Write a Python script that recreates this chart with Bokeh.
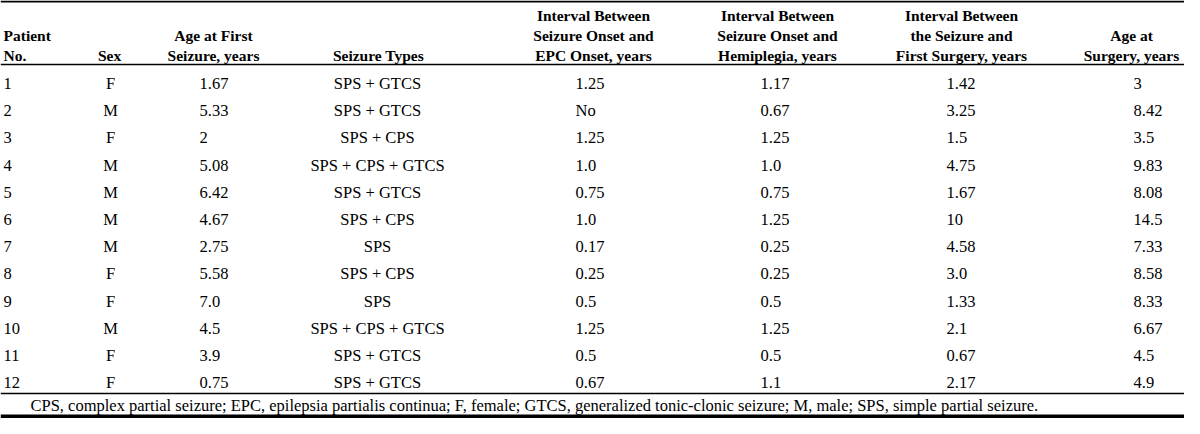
from bokeh.plotting import figure
from bokeh.models import Range1d, ColumnDataSource
from bokeh.core.properties import value
from bokeh.embed import file_html
from bokeh.resources import INLINE

# ---- data ----
patient_no = ["1", "2", "3", "4", "5", "6", "7", "8", "9", "10", "11", "12"]
sex = ["F", "M", "F", "M", "M", "M", "M", "F", "F", "M", "F", "F"]
age_first = ["1.67", "5.33", "2", "5.08", "6.42", "4.67", "2.75", "5.58", "7.0", "4.5", "3.9", "0.75"]
seizure_types = ["SPS + GTCS", "SPS + GTCS", "SPS + CPS", "SPS + CPS + GTCS", "SPS + GTCS", "SPS + CPS",
                 "SPS", "SPS + CPS", "SPS", "SPS + CPS + GTCS", "SPS + GTCS", "SPS + GTCS"]
interval_epc = ["1.25", "No", "1.25", "1.0", "0.75", "1.0", "0.17", "0.25", "0.5", "1.25", "0.5", "0.67"]
interval_hemi = ["1.17", "0.67", "1.25", "1.0", "0.75", "1.25", "0.25", "0.25", "0.5", "1.25", "0.5", "1.1"]
interval_surgery = ["1.42", "3.25", "1.5", "4.75", "1.67", "10", "4.58", "3.0", "1.33", "2.1", "0.67", "2.17"]
age_surgery = ["3", "8.42", "3.5", "9.83", "8.08", "14.5", "7.33", "8.58", "8.33", "6.67", "4.5", "4.9"]

headers = [
    ["Patient", "No."],
    ["Sex"],
    ["Age at First", "Seizure, years"],
    ["Seizure Types"],
    ["Interval Between", "Seizure Onset and", "EPC Onset, years"],
    ["Interval Between", "Seizure Onset and", "Hemiplegia, years"],
    ["Interval Between", "the Seizure and", "First Surgery, years"],
    ["Age at", "Surgery, years"],
]
footnote = ("CPS, complex partial seizure; EPC, epilepsia partialis continua; F, female; "
            "GTCS, generalized tonic-clonic seizure; M, male; SPS, simple partial seizure.")

# ---- layout (pixel coordinates, 1:1) ----
FONT = value("Liberation Serif")
W, H = 1184, 418
p = figure(width=W, height=H, x_range=Range1d(0, W), y_range=Range1d(H, 0),
           output_backend="svg", toolbar_location=None, min_border=0)
p.axis.visible = False
p.grid.visible = False
p.outline_line_color = None
p.background_fill_color = "white"

# column: data x, data align, header x, header align
cols = [
    (3, "left", 3, "left"),
    (110, "center", 109, "center"),
    (199, "left", 213, "center"),
    (377, "center", 378, "center"),
    (575, "left", 593, "center"),
    (760, "left", 777, "center"),
    (946, "left", 961, "center"),
    (1133, "left", 1131, "center"),
]
columns = [patient_no, sex, age_first, seizure_types, interval_epc, interval_hemi,
           interval_surgery, age_surgery]

row0, pitch = 83, 27.2
header_lines_y = [15, 35, 55]

# rules
p.segment(x0=[0], y0=[1], x1=[W], y1=[1], line_color="black", line_width=2)
p.segment(x0=[0], y0=[64], x1=[W], y1=[64], line_color="black", line_width=1.5)
p.segment(x0=[0], y0=[393], x1=[W], y1=[393], line_color="black", line_width=1.5)
p.segment(x0=[0], y0=[416], x1=[W], y1=[416], line_color="black", line_width=4)

# headers
for (dx, dal, hx, hal), lines in zip(cols, headers):
    ys = header_lines_y[-len(lines):]
    p.text(x=[hx] * len(lines), y=ys, text=lines, text_font=FONT, text_font_style="bold",
           text_font_size="15.5px", text_align=hal, text_baseline="middle", text_color="black")

# data
for (dx, dal, hx, hal), vals in zip(cols, columns):
    ys = [row0 + i * pitch for i in range(len(vals))]
    src = ColumnDataSource(dict(x=[dx] * len(vals), y=ys, t=vals))
    p.text(x="x", y="y", text="t", source=src, text_font=FONT, text_font_size="16.5px",
           text_align=dal, text_baseline="middle", text_color="black")

# footnote
p.text(x=[30], y=[405], text=[footnote], text_font=FONT, text_font_size="16.5px",
       text_align="left", text_baseline="middle", text_color="black")

open("out.html", "w").write(file_html(p, INLINE))
